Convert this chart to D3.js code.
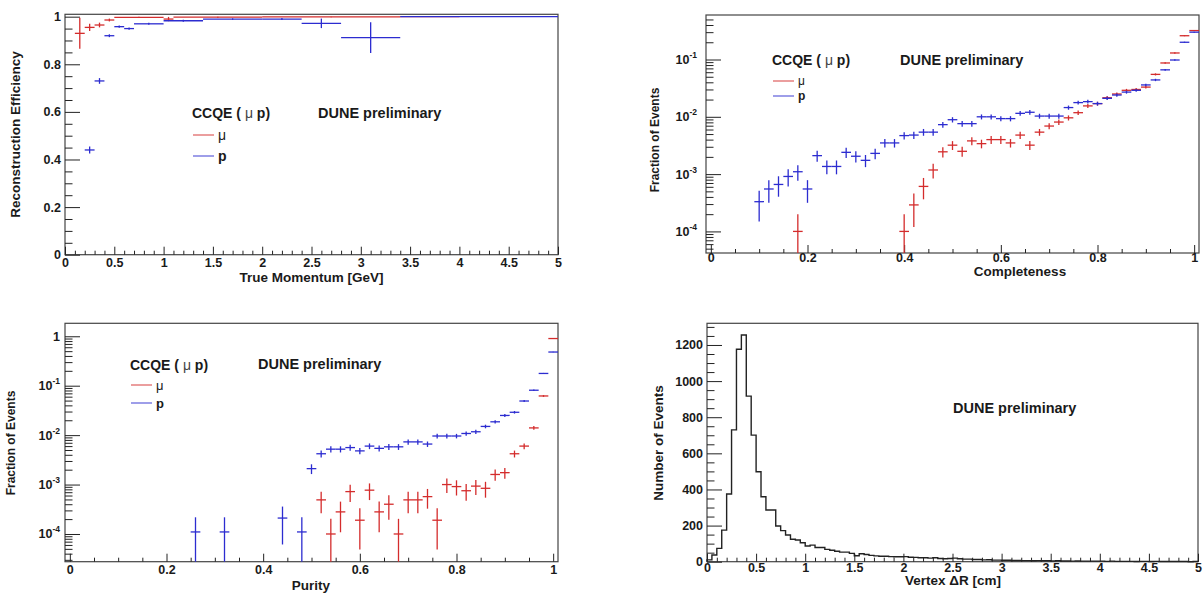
<!DOCTYPE html>
<html>
<head>
<meta charset="utf-8">
<script src="https://cdn.jsdelivr.net/npm/d3@7"></script>
<style>
  body { margin: 0; background: #fff; }
  svg text { font-family: "Liberation Sans", Arial, sans-serif; fill: #1a1a1a; }
</style>
</head>
<body>
<svg id="chart" width="1204" height="594"></svg>
<script>
// ---- top left: reconstruction efficiency vs true momentum [GeV]
const effMuX   = [0.15, 0.25, 0.35, 0.45, 0.75, 1.05, 1.55, 2.7, 3.7];
const effMuLo  = [0.1, 0.2, 0.3, 0.4, 0.5, 1.0, 1.1, 2.0, 3.4];
const effMuHi  = [0.2, 0.3, 0.4, 0.5, 1.0, 1.1, 2.0, 3.4, 4.0];
const effMuY   = [0.93, 0.955, 0.965, 0.986, 0.997, 0.99, 0.998, 0.999, 1.0];
const effMuErr = [0.065, 0.015, 0.01, 0.006, 0.003, 0.009, 0.002, 0.001, 0];

const effPX   = [0.25, 0.35, 0.45, 0.55, 0.65, 0.85, 1.2, 1.7, 2.2, 2.6, 3.1, 4.2];
const effPLo  = [0.2, 0.3, 0.4, 0.5, 0.6, 0.7, 1.0, 1.4, 2.0, 2.4, 2.8, 3.4];
const effPHi  = [0.3, 0.4, 0.5, 0.6, 0.7, 1.0, 1.4, 2.0, 2.4, 2.8, 3.4, 5.0];
const effPY   = [0.44, 0.73, 0.92, 0.958, 0.95, 0.97, 0.983, 0.99, 0.99, 0.972, 0.912, 1.0];
const effPErr = [0.015, 0.012, 0.006, 0.005, 0.005, 0.004, 0.004, 0.003, 0.004, 0.02, 0.065, 0];

// ---- top right: completeness (fraction of events, bins of 0.02)
const compPX = [0.10, 0.12, 0.14, 0.16, 0.18, 0.20, 0.22, 0.24, 0.26, 0.28, 0.30, 0.32, 0.34, 0.36, 0.38,
  0.40, 0.42, 0.44, 0.46, 0.48, 0.50, 0.52, 0.54, 0.56, 0.58, 0.60, 0.62, 0.64, 0.66, 0.68, 0.70,
  0.72, 0.74, 0.76, 0.78, 0.80, 0.82, 0.84, 0.86, 0.88, 0.90, 0.92, 0.94, 0.96, 0.98, 1.00];
const compPY = [3.3e-4, 5.5e-4, 6.6e-4, 9.1e-4, 1.1e-3, 5.5e-4, 2.1e-3, 1.36e-3, 1.36e-3, 2.4e-3, 2.05e-3,
  1.74e-3, 2.3e-3, 3.5e-3, 3.5e-3, 4.7e-3, 4.8e-3, 5.4e-3, 5.4e-3, 7.3e-3, 8.9e-3, 7.6e-3, 7.6e-3,
  1.0e-2, 1.0e-2, 9.3e-3, 9.3e-3, 1.15e-2, 1.2e-2, 1.03e-2, 1.03e-2, 1.03e-2, 1.45e-2, 1.77e-2,
  1.84e-2, 1.7e-2, 2.1e-2, 2.4e-2, 2.7e-2, 2.9e-2, 3.6e-2, 4.4e-2, 6.6e-2, 9.8e-2, 0.2, 0.3];
const compMuX = [0.18, 0.40, 0.42, 0.44, 0.46, 0.48, 0.50, 0.52, 0.54, 0.56, 0.58, 0.60, 0.62, 0.64, 0.66,
  0.68, 0.70, 0.72, 0.74, 0.76, 0.78, 0.80, 0.82, 0.84, 0.86, 0.88, 0.90, 0.92, 0.94, 0.96, 0.98, 1.00];
const compMuY = [1e-4, 1e-4, 2.9e-4, 6.1e-4, 1.18e-3, 2.45e-3, 3.2e-3, 2.5e-3, 3.8e-3, 3.4e-3, 4.0e-3,
  4.0e-3, 3.5e-3, 4.8e-3, 3.2e-3, 5.4e-3, 6.9e-3, 8.1e-3, 9.6e-3, 1.18e-2, 1.55e-2, 1.7e-2, 2.15e-2,
  2.5e-2, 2.9e-2, 3.0e-2, 3.3e-2, 5.5e-2, 8.7e-2, 0.13, 0.26, 0.32];

// ---- bottom left: purity
const purPX = [0.26, 0.32, 0.44, 0.48, 0.50, 0.52, 0.54, 0.56, 0.58, 0.60, 0.62, 0.64, 0.66, 0.68, 0.70,
  0.72, 0.74, 0.76, 0.78, 0.80, 0.82, 0.84, 0.86, 0.88, 0.90, 0.92, 0.94, 0.96, 0.98, 1.00];
const purPY = [1.1e-4, 1.1e-4, 2.1e-4, 1.1e-4, 2.1e-3, 4.2e-3, 5.2e-3, 5.2e-3, 5.6e-3, 4.8e-3, 6.0e-3,
  5.4e-3, 5.8e-3, 5.8e-3, 7.3e-3, 7.3e-3, 6.6e-3, 9.6e-3, 9.6e-3, 9.6e-3, 1.08e-2, 1.17e-2, 1.5e-2,
  1.86e-2, 2.5e-2, 2.9e-2, 4.9e-2, 8.1e-2, 0.177, 0.48];
const purMuX = [0.52, 0.54, 0.56, 0.58, 0.60, 0.62, 0.64, 0.66, 0.68, 0.70, 0.72, 0.74, 0.76, 0.78, 0.80,
  0.82, 0.84, 0.86, 0.88, 0.90, 0.92, 0.94, 0.96, 0.98, 1.00];
const purMuY = [4.9e-4, 1.0e-4, 2.8e-4, 7.2e-4, 1.9e-4, 7.7e-4, 2.8e-4, 4.0e-4, 1.0e-4, 4.9e-4, 4.9e-4,
  5.7e-4, 1.9e-4, 1.0e-3, 9.1e-4, 7.5e-4, 9.3e-4, 8.4e-4, 1.6e-3, 1.74e-3, 4.2e-3, 6.0e-3, 1.4e-2,
  0.062, 0.9];

// ---- bottom right: vertex dR [cm], 100 bins of 0.05 from 0 to 5
const dRCounts = [10, 37, 74, 175, 375, 730, 1176, 1255, 917, 701,
  498, 360, 286, 286, 198, 172, 148, 124, 120, 105,
  87, 92, 79, 79, 68, 63, 58, 53, 53, 46,
  33, 44, 40, 35, 32, 30, 30, 28, 27, 27,
  28, 25, 24, 22, 22, 20, 22, 18, 16, 18,
  20, 16, 14, 14, 12, 12, 10, 11, 9, 9,
  8, 8, 7, 7, 6, 6, 5, 6, 5, 5,
  4, 5, 4, 4, 3, 4, 3, 3, 3, 3,
  3, 2, 3, 2, 2, 2, 2, 1, 2, 2,
  1, 2, 1, 1, 1, 1, 1, 1, 0, 1];
const dRBinWidth = 0.05;

// statistics used for the sqrt(N) error bars of the fraction plots
const N_COMP = 10000;
const N_PUR = 9500;
const FRAC_BIN_HALF = 0.01;

const RED = '#d42c2c';
const BLUE = '#2c2cd0';
const FONT = '"Liberation Sans", Arial, sans-serif';

const svg = d3.select('#chart');
svg.append('rect').attr('width', 1204).attr('height', 594).attr('fill', '#fff');

const range = (a, b, step) => d3.range(Math.round(a / step), Math.round(b / step) + 1).map(i => +(i * step).toFixed(4));
const minorOf = (all, majors) => all.filter(v => !majors.some(m => Math.abs(m - v) < 1e-6));
const logMinors = (lo, hi) => {
  const out = [];
  for (let e = Math.floor(Math.log10(lo)); e <= Math.ceil(Math.log10(hi)); e++)
    for (let k = 2; k <= 9; k++) { const v = k * Math.pow(10, e); if (v >= lo && v <= hi) out.push(v); }
  return out;
};

function styleAxis(s) {
  s.select('.domain').remove();
  s.attr('font-family', FONT).attr('font-size', 12.5).attr('font-weight', 'bold').attr('color', '#222');
}

function drawAxes(g, x, y, o) {
  const [x0, x1] = x.range();
  const [yb, yt] = y.range();
  g.append('rect').attr('x', x0).attr('y', yt).attr('width', x1 - x0).attr('height', yb - yt)
    .attr('fill', 'none').attr('stroke', '#444').attr('stroke-width', 1.2);

  // x axis: ticks point into the frame, labels below
  g.append('g').attr('transform', `translate(0,${yb})`)
    .call(d3.axisBottom(x).tickValues(o.xMinor).tickSize(-4).tickFormat(''))
    .call(styleAxis);
  g.append('g').attr('transform', `translate(0,${yb})`)
    .call(d3.axisBottom(x).tickValues(o.xMajor).tickSize(-8).tickFormat(o.xFmt))
    .call(styleAxis)
    .call(s => s.selectAll('.tick text').attr('y', o.xLabOff).attr('dy', null).attr('dominant-baseline', 'central'));

  // y axis
  g.append('g').attr('transform', `translate(${x0},0)`)
    .call(d3.axisLeft(y).tickValues(o.yMinor).tickSize(-7.5).tickFormat(''))
    .call(styleAxis);
  const gy = g.append('g').attr('transform', `translate(${x0},0)`)
    .call(d3.axisLeft(y).tickValues(o.yMajor).tickSize(-15).tickFormat(o.log ? () => '' : o.yFmt))
    .call(styleAxis);
  gy.selectAll('.tick text').attr('x', -o.yLabOff).attr('dy', null).attr('dominant-baseline', 'central');
  if (o.log) {
    gy.selectAll('.tick text').each(function (d) {
      const e = Math.round(Math.log10(d));
      const t = d3.select(this);
      if (e === 0) { t.text('1'); return; }
      t.append('tspan').text('10');
      t.append('tspan').attr('dy', -5).attr('font-size', 8.5).text(String(e));
    });
  }

  // axis titles
  g.append('text').attr('x', o.xTitle[0]).attr('y', o.xTitle[1]).attr('text-anchor', 'middle')
    .attr('dominant-baseline', 'central').attr('font-size', o.xTitle[2]).attr('font-weight', 'bold').text(o.xTitleText);
  g.append('text').attr('transform', `translate(${o.yTitle[0]},${o.yTitle[1]}) rotate(-90)`)
    .attr('text-anchor', 'middle').attr('dominant-baseline', 'central')
    .attr('font-size', o.yTitle[2]).attr('font-weight', 'bold').text(o.yTitleText);
}

function drawErrors(g, x, y, pts, color) {
  const [dLo, dHi] = y.domain();
  g.append('g').selectAll('line').data(pts).join('line')
    .attr('x1', d => x(d.lo)).attr('x2', d => x(d.hi))
    .attr('y1', d => y(d.v)).attr('y2', d => y(d.v))
    .attr('stroke', color).attr('stroke-width', 1.3);
  g.append('g').selectAll('line').data(pts.filter(d => d.e > 0)).join('line')
    .attr('x1', d => x(d.x)).attr('x2', d => x(d.x))
    .attr('y1', d => y(Math.max(d.v - d.e, dLo))).attr('y2', d => y(Math.min(d.v + d.e, dHi)))
    .attr('stroke', color).attr('stroke-width', 1.3);
}

const fracPoints = (xs, vs, n) => xs.map((xv, i) => ({
  x: xv, lo: xv - FRAC_BIN_HALF, hi: xv + FRAC_BIN_HALF, v: vs[i], e: Math.sqrt(vs[i] / n)
}));

function legend(g, o) {
  const t = g.append('text').attr('x', o.x).attr('y', o.y).attr('dominant-baseline', 'central')
    .attr('font-size', o.size).attr('font-weight', 'bold');
  t.append('tspan').text('CCQE (');
  t.append('tspan').attr('font-weight', 'normal').attr('fill', '#444').text(' \u03bc');
  t.append('tspan').text(' p)');
  [[o.rows[0], RED, '\u03bc', 'normal'], [o.rows[1], BLUE, 'p', 'bold']].forEach(([ry, c, lab, w]) => {
    g.append('line').attr('x1', o.x + 1).attr('x2', o.x + 22).attr('y1', ry).attr('y2', ry)
      .attr('stroke', c).attr('stroke-width', 1.3).attr('opacity', 0.7);
    g.append('text').attr('x', o.x + 26).attr('y', ry).attr('dominant-baseline', 'central')
      .attr('font-size', o.rowSize).attr('font-weight', w).attr('fill', w === 'bold' ? '#1a1a1a' : '#444').text(lab);
  });
}

function dune(g, x, y) {
  g.append('text').attr('x', x).attr('y', y).attr('dominant-baseline', 'central')
    .attr('font-size', 14.5).attr('font-weight', 'bold').text('DUNE preliminary');
}

const fmtLin = d => String(d);

// ================= panel 1 =================
{
  const g = svg.append('g');
  const x = d3.scaleLinear().domain([0, 5]).range([65, 558]);
  const y = d3.scaleLinear().domain([0, 1.01]).range([254.7, 14.3]);
  const xMaj = range(0, 5, 0.5), yMaj = range(0, 1, 0.2);
  drawAxes(g, x, y, {
    xMajor: xMaj, xMinor: minorOf(range(0, 5, 0.1), xMaj), xFmt: fmtLin, xLabOff: 8,
    yMajor: yMaj, yMinor: minorOf(range(0, 1, 0.05), yMaj), yFmt: fmtLin, yLabOff: 4,
    xTitle: [311.5, 277, 13.5], xTitleText: 'True Momentum [GeV]',
    yTitle: [15, 134.5, 13.5], yTitleText: 'Reconstruction Efficiency'
  });
  drawErrors(g, x, y, effMuX.map((v, i) => ({ x: v, lo: effMuLo[i], hi: effMuHi[i], v: effMuY[i], e: effMuErr[i] })), RED);
  drawErrors(g, x, y, effPX.map((v, i) => ({ x: v, lo: effPLo[i], hi: effPHi[i], v: effPY[i], e: effPErr[i] })), BLUE);
  legend(g, { x: 192, y: 113, rows: [135, 156], size: 14, rowSize: 14 });
  dune(g, 318, 113);
}

// ================= panel 2 =================
{
  const g = svg.append('g');
  const x = d3.scaleLinear().domain([-0.01, 1.01]).range([706, 1199]);
  const y = d3.scaleLog().domain([4.2e-5, 0.598]).range([253, 15]);
  const xMaj = range(0, 1, 0.2);
  drawAxes(g, x, y, {
    xMajor: xMaj, xMinor: minorOf(range(0, 1, 0.05), xMaj), xFmt: fmtLin, xLabOff: 4.5,
    yMajor: [1e-4, 1e-3, 1e-2, 1e-1], yMinor: logMinors(4.2e-5, 0.598), log: true, yLabOff: 9,
    xTitle: [1020, 271, 13.5], xTitleText: 'Completeness',
    yTitle: [655, 140, 12], yTitleText: 'Fraction of Events'
  });
  drawErrors(g, x, y, fracPoints(compMuX, compMuY, N_COMP), RED);
  drawErrors(g, x, y, fracPoints(compPX, compPY, N_COMP), BLUE);
  legend(g, { x: 772, y: 60, rows: [81, 96], size: 14, rowSize: 12 });
  dune(g, 900, 60);
}

// ================= panel 3 =================
{
  const g = svg.append('g');
  const x = d3.scaleLinear().domain([-0.01, 1.01]).range([65, 558]);
  const y = d3.scaleLog().domain([2.75e-5, 1.83]).range([561.7, 323.3]);
  const xMaj = range(0, 1, 0.2);
  drawAxes(g, x, y, {
    xMajor: xMaj, xMinor: minorOf(range(0, 1, 0.05), xMaj), xFmt: fmtLin, xLabOff: 8.5,
    yMajor: [1e-4, 1e-3, 1e-2, 1e-1, 1], yMinor: logMinors(2.75e-5, 1.83), log: true, yLabOff: 5,
    xTitle: [311, 585, 13.5], xTitleText: 'Purity',
    yTitle: [11, 443, 12], yTitleText: 'Fraction of Events'
  });
  drawErrors(g, x, y, fracPoints(purMuX, purMuY, N_PUR), RED);
  drawErrors(g, x, y, fracPoints(purPX, purPY, N_PUR), BLUE);
  legend(g, { x: 130, y: 365, rows: [385, 403], size: 14, rowSize: 13 });
  dune(g, 258, 364);
}

// ================= panel 4 =================
{
  const g = svg.append('g');
  const x = d3.scaleLinear().domain([0, 5]).range([707, 1198]);
  const y = d3.scaleLinear().domain([0, 1320]).range([561.7, 323.3]);
  const xMaj = range(0, 5, 0.5), yMaj = range(0, 1200, 200);
  drawAxes(g, x, y, {
    xMajor: xMaj, xMinor: minorOf(range(0, 5, 0.1), xMaj), xFmt: fmtLin, xLabOff: 6,
    yMajor: yMaj, yMinor: minorOf(range(0, 1300, 50), yMaj), yFmt: fmtLin, yLabOff: 4,
    xTitle: [953, 580, 13.5], xTitleText: 'Vertex \u0394R [cm]',
    yTitle: [658, 443, 13.5], yTitleText: 'Number of Events'
  });
  const steps = [[0, 0]];
  dRCounts.forEach((c, i) => { steps.push([i * dRBinWidth, c]); steps.push([(i + 1) * dRBinWidth, c]); });
  steps.push([dRCounts.length * dRBinWidth, 0]);
  g.append('path').datum(steps)
    .attr('d', d3.line().x(d => x(d[0])).y(d => y(d[1])))
    .attr('fill', 'none').attr('stroke', '#222').attr('stroke-width', 1.4);
  dune(g, 953, 408);
}
</script>
</body>
</html>
